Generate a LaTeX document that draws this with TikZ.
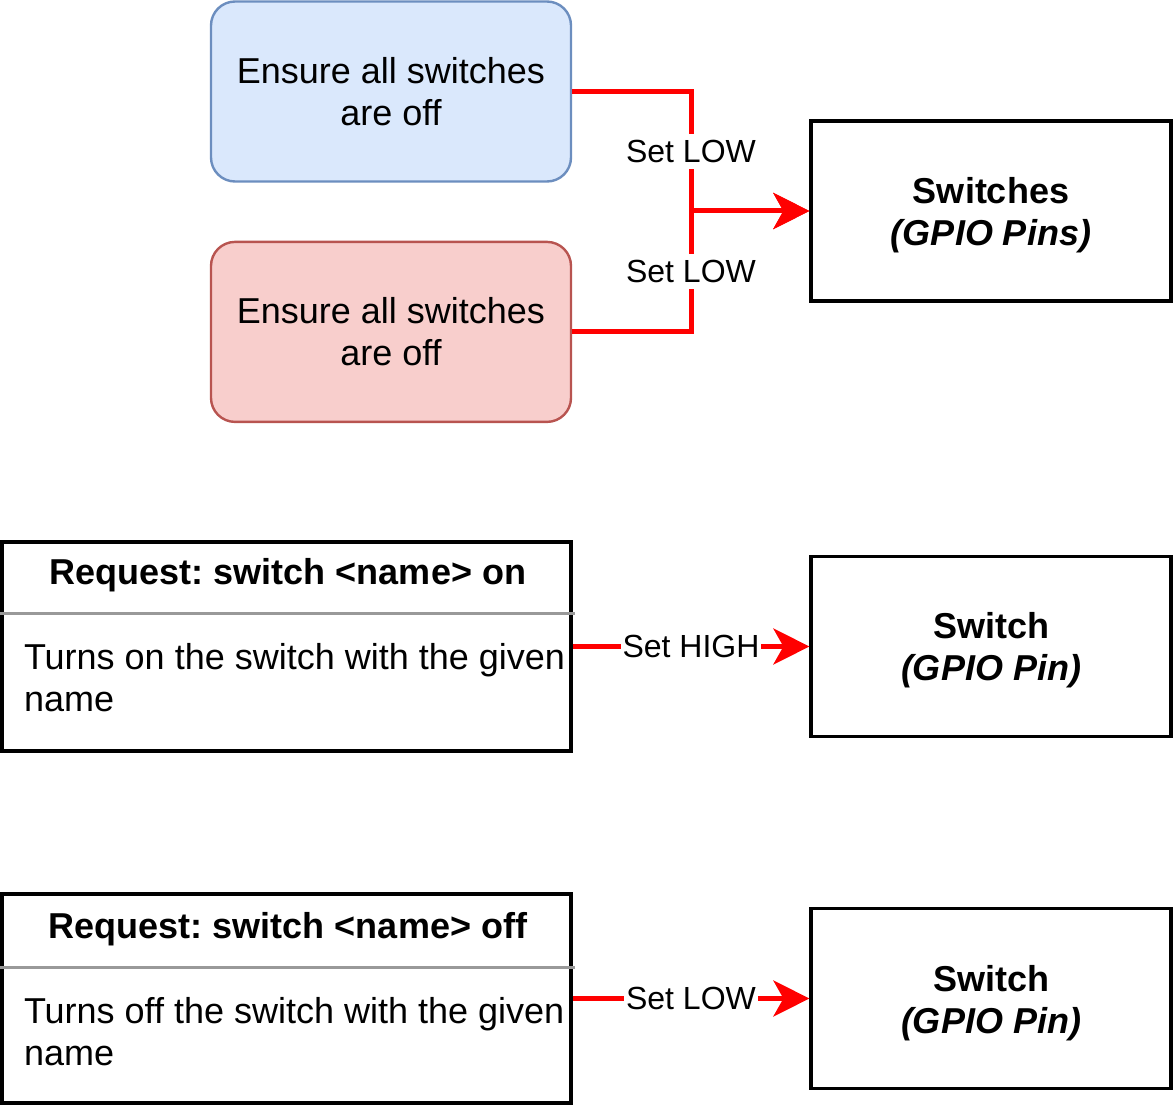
\documentclass[tikz,border=0pt]{standalone}
\usepackage{fontspec}
\setmainfont{Liberation Sans}
\usetikzlibrary{arrows.meta,positioning}
\frenchspacing

\definecolor{bluefill}{HTML}{DAE8FC}
\definecolor{blueline}{HTML}{6C8EBF}
\definecolor{redfill}{HTML}{F8CECC}
\definecolor{redline}{HTML}{B85450}
\definecolor{wirered}{HTML}{FF0000}
\definecolor{sepgray}{HTML}{999999}

\begin{document}
\begin{tikzpicture}[
  x=0.5pt,y=-0.5pt,
  node distance=29pt and 60pt,
  every node/.style={font=\fontsize{18}{21}\selectfont},
  ensure/.style={draw,rounded corners=12pt,align=center,minimum width=180pt,minimum height=90pt,line width=1.2pt},
  pins/.style={draw,line width=1.6pt,align=center,minimum width=180pt,minimum height=90pt},
  request/.style={draw,line width=1.6pt,minimum width=284.5pt,minimum height=104.5pt},
  sep/.style={draw=sepgray,line width=1.5pt},
  wire/.style={-{Stealth[length=18pt,width=18pt,inset=5pt]},line width=2.5pt,draw=wirered},
  wirelabel/.style={fill=white,inner xsep=1pt,inner ysep=3pt,font=\fontsize{16}{19}\selectfont}
]
\useasboundingbox (0,0) rectangle (1173,1107);

% switches off at start
\node[ensure,fill=bluefill,draw=blueline] (ensure1) at (391,91.5) {Ensure all switches\\are off};
\node[ensure,fill=redfill,draw=redline,below=of ensure1] (ensure2) {Ensure all switches\\are off};
\node[pins] (gpio) at (991,211) {};
\node[align=center,font=\fontsize{18}{21}\selectfont\bfseries] (gpiotext) at (991,215) {Switches\\\textit{(GPIO Pins)}};
\coordinate (joint) at (691,211);
\draw[wire] (ensure1.east) -| (joint) -- (gpio.west);
\draw[wire] (ensure2.east) -| (joint) -- (gpio.west);
\path (ensure1.east) -| node[pos=0.75,wirelabel] (lowtop) {Set LOW} (joint);
\path (ensure2.east) -| node[pos=0.75,wirelabel] (lowbottom) {Set LOW} (joint);

% switch on
\node[request] (reqon) at (286.5,646.5) {};
\node[font=\fontsize{18}{21}\selectfont\bfseries] (reqonhead) at (288,575) {Request: switch <name> on};
\coordinate (reqonsepL) at (0,613);
\coordinate (reqonsepR) at (575,613);
\draw[sep] (reqonsepL) -- (reqonsepR);
\node[anchor=west,align=left] (reqonbody) at (17,678) {Turns on the switch with the given\\name};
\node[pins] (pinon) at (991,646.5) {};
\node[align=center,font=\fontsize{18}{21}\selectfont\bfseries] (pinontext) at (991,650) {Switch\\\textit{(GPIO Pin)}};
\draw[wire] (reqon.east) -- node[wirelabel] {Set HIGH} (pinon.west);

% switch off
\node[request] (reqoff) at (286.5,998.5) {};
\node[font=\fontsize{18}{21}\selectfont\bfseries] (reqoffhead) at (288,929) {Request: switch <name> off};
\coordinate (reqoffsepL) at (0,967);
\coordinate (reqoffsepR) at (575,967);
\draw[sep] (reqoffsepL) -- (reqoffsepR);
\node[anchor=west,align=left] (reqoffbody) at (17,1032) {Turns off the switch with the given\\name};
\node[pins] (pinoff) at (991,998.5) {};
\node[align=center,font=\fontsize{18}{21}\selectfont\bfseries] (pinofftext) at (991,1003) {Switch\\\textit{(GPIO Pin)}};
\draw[wire] (reqoff.east) -- node[wirelabel] {Set LOW} (pinoff.west);
\end{tikzpicture}
\end{document}
